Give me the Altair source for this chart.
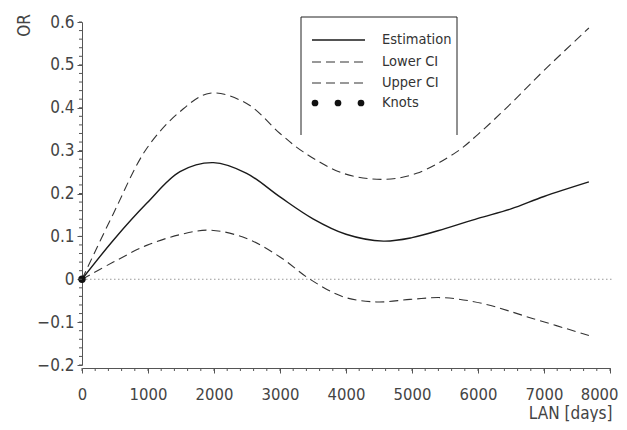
import altair as alt
import pandas as pd

# ---- data ----
est_x = [0, 475, 980, 1485, 1990, 2495, 3000, 3500, 4000, 4566, 5000, 5500, 6000, 6500, 7000, 7680]
est_y = [0, 0.091, 0.177, 0.251, 0.272, 0.247, 0.192, 0.141, 0.105, 0.089, 0.097, 0.118, 0.142, 0.164, 0.193, 0.227]

up_x = [0, 475, 980, 1485, 1940, 2495, 3000, 3353, 3960, 4566, 5070, 5677, 6000, 6500, 7000, 7680]
up_y = [0, 0.153, 0.305, 0.391, 0.434, 0.410, 0.340, 0.297, 0.247, 0.233, 0.247, 0.297, 0.338, 0.410, 0.487, 0.586]

lo_x = [0, 475, 980, 1485, 1940, 2495, 3000, 3455, 3960, 4465, 4970, 5475, 6080, 6838, 7680]
lo_y = [0, 0.040, 0.079, 0.104, 0.1145, 0.095, 0.052, 0.0, -0.041, -0.053, -0.047, -0.043, -0.057, -0.092, -0.131]

knot_x = [0]
knot_y = [0]

x_major = [0, 1000, 2000, 3000, 4000, 5000, 6000, 7000, 8000]
y_major = [-0.2, -0.1, 0, 0.1, 0.2, 0.3, 0.4, 0.5, 0.6]
x_minor = [v for v in range(0, 8001, 200)]
y_minor = [round(-0.2 + 0.02 * i, 2) for i in range(41)]

legend_labels = ["Estimation", "Lower CI", "Upper CI", "Knots"]

FONT = "DejaVu Sans Condensed, Liberation Sans Narrow, Roboto, sans-serif"
W, H = 528, 343

xs = alt.Scale(domain=[0, 8000], nice=False)
ys = alt.Scale(domain=[-0.2, 0.6], nice=False, zero=False)

x_axis = alt.Axis(values=x_major, format="d", tickSize=5, offset=3, labelPadding=13,
                  labelFlush=False, labelFontSize=16.5,
                  labelAlign={"condition": {"test": "datum.value >= 8000", "value": "right"}, "value": "center"},
                  labelOffset={"condition": {"test": "datum.value >= 8000", "value": 8}, "value": 0},
                  title="LAN [days]", titleAnchor="end", titleAlign="right",
                  titleBaseline="alphabetic",
                  titleX=W + 2, titleY=50, titleFontWeight="normal", titleFontSize=17,
                  grid=False)
y_axis = alt.Axis(values=y_major, format="~g", tickSize=5, labelPadding=3,
                  labelFlush=False,
                  title="OR", titleAngle=-90, titleAlign="center", titleBaseline="middle",
                  titleX=-58, titleY=3, titleFontWeight="normal", titleFontSize=17,
                  grid=False,
                  labelExpr="datum.value < 0 ? '\u2212' + format(-datum.value, '~g') : format(datum.value, '~g')")


def line_df(xv, yv):
    return pd.DataFrame({"x": xv, "y": yv})


est = alt.Chart(line_df(est_x, est_y)).mark_line(
    color="#1a1a1a", strokeWidth=1.4, interpolate="catmull-rom"
).encode(x=alt.X("x:Q", scale=xs, axis=x_axis), y=alt.Y("y:Q", scale=ys, axis=y_axis))

up = alt.Chart(line_df(up_x, up_y)).mark_line(
    color="#333333", strokeWidth=1.1, strokeDash=[9, 5], interpolate="catmull-rom"
).encode(x=alt.X("x:Q", scale=xs), y=alt.Y("y:Q", scale=ys))

lo = alt.Chart(line_df(lo_x, lo_y)).mark_line(
    color="#333333", strokeWidth=1.1, strokeDash=[9, 5], interpolate="catmull-rom"
).encode(x=alt.X("x:Q", scale=xs), y=alt.Y("y:Q", scale=ys))

zero = alt.Chart(pd.DataFrame({"y": [0]})).mark_rule(
    color="#999999", strokeWidth=1, strokeDash=[1.5, 2.5]
).encode(y=alt.Y("y:Q", scale=ys), x=alt.value(0), x2=alt.value(W + 2))

knots = alt.Chart(line_df(knot_x, knot_y)).mark_point(
    filled=True, color="#111111", size=55, opacity=1, clip=False
).encode(x=alt.X("x:Q", scale=xs), y=alt.Y("y:Q", scale=ys))

# minor ticks
xmin = alt.Chart(pd.DataFrame({"x": x_minor})).mark_rule(color="#555555", strokeWidth=1).encode(
    x=alt.X("x:Q", scale=xs), y=alt.value(H + 3), y2=alt.value(H + 6))
ymin = alt.Chart(pd.DataFrame({"y": y_minor})).mark_rule(color="#555555", strokeWidth=1).encode(
    y=alt.Y("y:Q", scale=ys), x=alt.value(0), x2=alt.value(-3))

# legend box (decoration)
one = pd.DataFrame({"a": [0]})
box_l, box_r, box_t, box_b = 219, 375, -5, 113
box = [
    alt.Chart(one).mark_rule(color="#222222", strokeWidth=1).encode(
        x=alt.value(box_l), x2=alt.value(box_r), y=alt.value(box_t)),
    alt.Chart(one).mark_rule(color="#222222", strokeWidth=1).encode(
        x=alt.value(box_l), y=alt.value(box_t), y2=alt.value(box_b)),
    alt.Chart(one).mark_rule(color="#222222", strokeWidth=1).encode(
        x=alt.value(box_r), y=alt.value(box_t), y2=alt.value(box_b)),
]
row_y = [18, 40, 61, 81]
leg = []
leg.append(alt.Chart(one).mark_rule(color="#1a1a1a", strokeWidth=1.4).encode(
    x=alt.value(230), x2=alt.value(283), y=alt.value(row_y[0])))
for r in (1, 2):
    leg.append(alt.Chart(one).mark_rule(color="#333333", strokeWidth=1.1, strokeDash=[9, 5]).encode(
        x=alt.value(230), x2=alt.value(283), y=alt.value(row_y[r])))
for dx in (233, 256, 279):
    leg.append(alt.Chart(one).mark_point(filled=True, color="#111111", size=45, opacity=1).encode(
        x=alt.value(dx), y=alt.value(row_y[3])))
for r, lab in enumerate(legend_labels):
    leg.append(alt.Chart(pd.DataFrame({"t": [lab]})).mark_text(
        align="left", baseline="middle", font=FONT, fontSize=14.5, color="#333333"
    ).encode(text="t:N", x=alt.value(300), y=alt.value(row_y[r])))

chart = alt.layer(zero, lo, up, est, knots, xmin, ymin, *box, *leg).properties(
    width=W, height=H,
    autosize=alt.AutoSizeParams(type="none"),
    padding={"left": 74, "top": 14, "right": 9, "bottom": 57},
).configure_view(stroke=None).configure_axis(
    labelFont=FONT, titleFont=FONT, labelFontSize=17, labelColor="#444444",
    titleColor="#444444", domainColor="#555555", tickColor="#555555",
    domainWidth=1, tickWidth=1,
)

chart.save("out.html", embed_options={"renderer": "svg", "actions": False})
